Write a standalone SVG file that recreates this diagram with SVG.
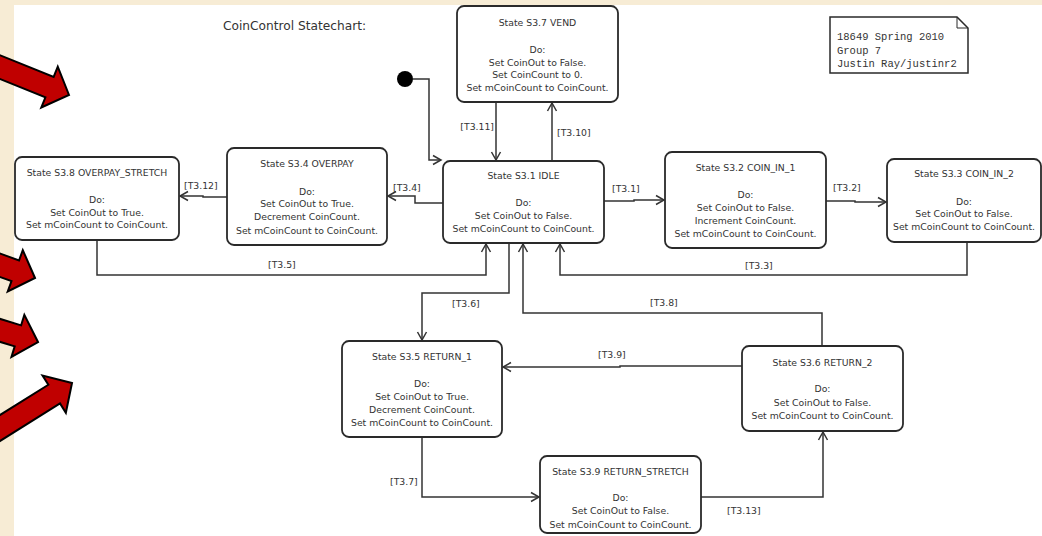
<svg xmlns="http://www.w3.org/2000/svg" width="1042" height="536" viewBox="0 0 1042 536">
<style>
.node rect{fill:#fff;stroke:#2a2a2a;stroke-width:1.8}
.node text,.lbl{font-family:"DejaVu Sans",sans-serif;font-size:9.3px;fill:#333;text-anchor:middle}
.lbl{text-anchor:start}
.conn path{fill:none;stroke:#333;stroke-width:1.5}
.red{fill:#c00000;stroke:#000;stroke-width:2;stroke-linejoin:miter}
</style>
<defs>
<marker id="ah" viewBox="-10 -6 12 12" refX="0" refY="0" markerWidth="12" markerHeight="12" markerUnits="userSpaceOnUse" orient="auto">
<path d="M-8,-4.5 L0,0 L-8,4.5" fill="none" stroke="#333" stroke-width="1.5"/>
</marker>
<path id="bigArrow" d="M0,0 L-21,-22 L-21,-11 L-140,-11 L-140,11 L-21,11 L-21,22 Z"/>
</defs>
<rect x="0" y="0" width="1042" height="536" fill="#f7ecd5"/>
<rect x="14" y="5" width="1028" height="531" fill="#fff"/>
<g id="red-arrows">
<use href="#bigArrow" class="red" transform="translate(69,95) rotate(22)"/>
<use href="#bigArrow" class="red" transform="translate(35,278) rotate(20)"/>
<use href="#bigArrow" class="red" transform="translate(38,342) rotate(17)"/>
<use href="#bigArrow" class="red" transform="translate(72,383) rotate(-32)"/>
</g>
<text x="223" y="30" font-family="DejaVu Sans, sans-serif" font-size="12.2" fill="#333">CoinControl Statechart:</text>
<g id="note">
<path d="M830,17 H957 L968,28 V73 H830 Z" fill="#fff" stroke="#2a2a2a" stroke-width="1.5"/>
<path d="M957,17 V28 H968" fill="none" stroke="#2a2a2a" stroke-width="1"/>
<text font-family="Liberation Mono, monospace" font-size="10.5" fill="#333">
<tspan x="837" y="40">18649 Spring 2010</tspan>
<tspan x="837" y="54">Group 7</tspan>
<tspan x="837" y="67">Justin Ray/justinr2</tspan>
</text>
</g>
<g id="initial"><circle cx="405" cy="79" r="8" fill="#000"/></g>
<g class="conn" id="connectors">
<path d="M413,79 H429 V160 H441" marker-end="url(#ah)"/>
<path d="M496,102 V160" marker-end="url(#ah)"/>
<path d="M552,161 V103" marker-end="url(#ah)"/>
<path d="M604,201 H634 V200 H664" marker-end="url(#ah)"/>
<path d="M826,201 H855 V202 H886" marker-end="url(#ah)"/>
<path d="M967,242 V275 H560 V244" marker-end="url(#ah)"/>
<path d="M443,203 H415 V196 H388" marker-end="url(#ah)"/>
<path d="M227,197 H203 V196 H180" marker-end="url(#ah)"/>
<path d="M97,240 V275 H486 V244" marker-end="url(#ah)"/>
<path d="M509,243 V293 H422 V340" marker-end="url(#ah)"/>
<path d="M822,346 V313 H523 V244" marker-end="url(#ah)"/>
<path d="M742,366 H620 V367 H503" marker-end="url(#ah)"/>
<path d="M422,437 V497 H539" marker-end="url(#ah)"/>
<path d="M701,497 H823 V432" marker-end="url(#ah)"/>
<text class="lbl" x="494" y="130" text-anchor="end" style="text-anchor:end">[T3.11]</text>
<text class="lbl" x="557" y="136">[T3.10]</text>
<text class="lbl" x="612" y="192">[T3.1]</text>
<text class="lbl" x="833" y="191">[T3.2]</text>
<text class="lbl" x="745" y="269">[T3.3]</text>
<text class="lbl" x="393" y="191">[T3.4]</text>
<text class="lbl" x="184" y="189">[T3.12]</text>
<text class="lbl" x="268" y="268">[T3.5]</text>
<text class="lbl" x="452" y="307">[T3.6]</text>
<text class="lbl" x="650" y="306">[T3.8]</text>
<text class="lbl" x="598" y="358">[T3.9]</text>
<text class="lbl" x="390" y="485">[T3.7]</text>
<text class="lbl" x="727" y="514">[T3.13]</text>
</g>
<g class="node" id="s37">
<rect x="457" y="6" width="161" height="96" rx="7"/>
<text x="537.5" y="26">State S3.7 VEND</text>
<text x="537.5" y="53">Do:</text>
<text x="537.5" y="66">Set CoinOut to False.</text>
<text x="537.5" y="78">Set CoinCount to 0.</text>
<text x="537.5" y="91">Set mCoinCount to CoinCount.</text>
</g>
<g class="node" id="s31">
<rect x="443" y="161" width="161" height="82" rx="7"/>
<text x="523.5" y="179">State S3.1 IDLE</text>
<text x="523.5" y="206">Do:</text>
<text x="523.5" y="219">Set CoinOut to False.</text>
<text x="523.5" y="232">Set mCoinCount to CoinCount.</text>
</g>
<g class="node" id="s32">
<rect x="665" y="152" width="161" height="96" rx="7"/>
<text x="745.5" y="171">State S3.2 COIN_IN_1</text>
<text x="745.5" y="198">Do:</text>
<text x="745.5" y="211">Set CoinOut to False.</text>
<text x="745.5" y="224">Increment CoinCount.</text>
<text x="745.5" y="237">Set mCoinCount to CoinCount.</text>
</g>
<g class="node" id="s33">
<rect x="887" y="159" width="154" height="83" rx="7"/>
<text x="964" y="177">State S3.3 COIN_IN_2</text>
<text x="964" y="205">Do:</text>
<text x="964" y="217">Set CoinOut to False.</text>
<text x="964" y="230">Set mCoinCount to CoinCount.</text>
</g>
<g class="node" id="s38">
<rect x="15" y="157" width="164" height="83" rx="7"/>
<text x="97" y="176">State S3.8 OVERPAY_STRETCH</text>
<text x="97" y="203">Do:</text>
<text x="97" y="216">Set CoinOut to True.</text>
<text x="97" y="228">Set mCoinCount to CoinCount.</text>
</g>
<g class="node" id="s34">
<rect x="227" y="148" width="160" height="97" rx="7"/>
<text x="307" y="167">State S3.4 OVERPAY</text>
<text x="307" y="195">Do:</text>
<text x="307" y="207">Set CoinOut to True.</text>
<text x="307" y="220">Decrement CoinCount.</text>
<text x="307" y="234">Set mCoinCount to CoinCount.</text>
</g>
<g class="node" id="s35">
<rect x="342" y="341" width="160" height="96" rx="7"/>
<text x="422" y="360">State S3.5 RETURN_1</text>
<text x="422" y="387">Do:</text>
<text x="422" y="400">Set CoinOut to True.</text>
<text x="422" y="413">Decrement CoinCount.</text>
<text x="422" y="426">Set mCoinCount to CoinCount.</text>
</g>
<g class="node" id="s36">
<rect x="742" y="346" width="161" height="85" rx="7"/>
<text x="822.5" y="366">State S3.6 RETURN_2</text>
<text x="822.5" y="392">Do:</text>
<text x="822.5" y="406">Set CoinOut to False.</text>
<text x="822.5" y="419">Set mCoinCount to CoinCount.</text>
</g>
<g class="node" id="s39">
<rect x="540" y="456" width="161" height="77" rx="7"/>
<text x="620.5" y="475">State S3.9 RETURN_STRETCH</text>
<text x="620.5" y="501">Do:</text>
<text x="620.5" y="514">Set CoinOut to False.</text>
<text x="620.5" y="528">Set mCoinCount to CoinCount.</text>
</g>
</svg>
